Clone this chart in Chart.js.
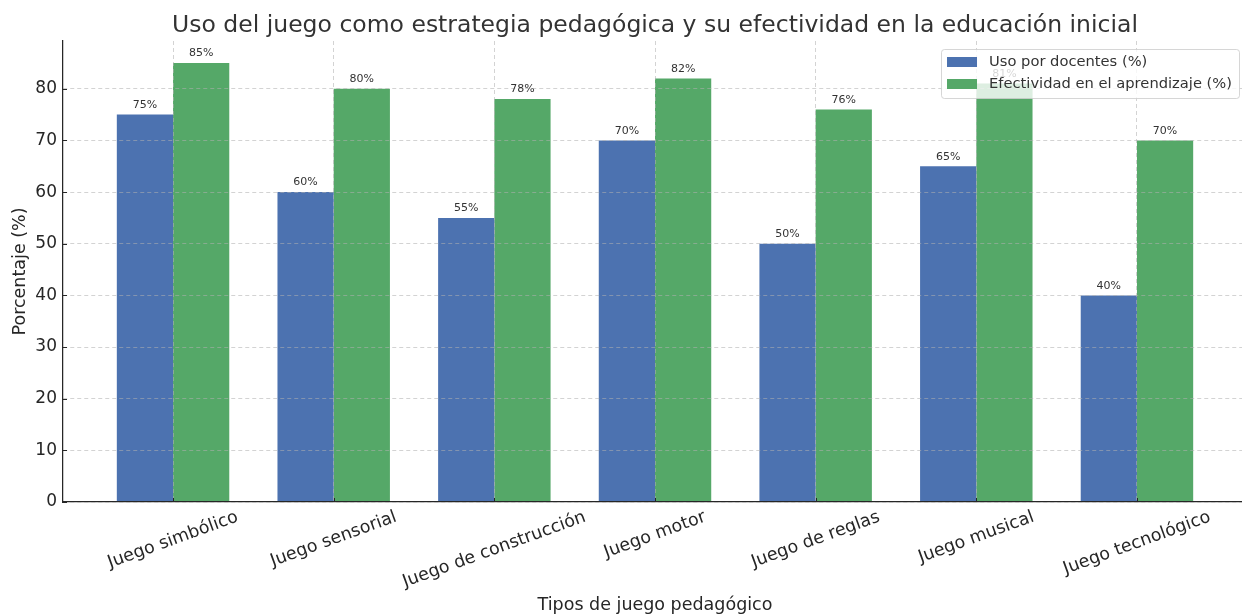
<!DOCTYPE html>
<html>
<head>
<meta charset="utf-8">
<script src="https://cdn.jsdelivr.net/npm/chart.js@4.4.0/dist/chart.umd.min.js"></script>
<style>
  html, body { margin: 0; padding: 0; background: #fff; overflow: hidden; }
  #chart { display: block; }
</style>
</head>
<body>
<canvas id="chart" width="1250" height="616"></canvas>
<script>
// datos
const categorias = ['Juego simbólico', 'Juego sensorial', 'Juego de construcción', 'Juego motor', 'Juego de reglas', 'Juego musical', 'Juego tecnológico'];
const usoDocentes = [75, 60, 55, 70, 50, 65, 40];
const efectividad = [85, 80, 78, 82, 76, 81, 70];
const yTicks = [0, 10, 20, 30, 40, 50, 60, 70, 80];
const etiquetasSerie = ['Uso por docentes (%)', 'Efectividad en el aprendizaje (%)'];

const AZUL = '#4c72b0';
const VERDE = '#55a868';
const FUENTE = '"DejaVu Sans", sans-serif';
const TEXTO = '#262626';

// Textos, marcas y leyenda dibujados a mano (estilo matplotlib)
const extrasPlugin = {
  id: 'extras',
  afterDraw(chart) {
    const { ctx, chartArea: area, scales: { x, y } } = chart;
    ctx.save();

    // marcas de los ejes hacia dentro
    ctx.strokeStyle = TEXTO;
    ctx.lineWidth = 1;
    categorias.forEach((_, i) => {
      const px = Math.round(x.getPixelForValue(i)) + 0.5;
      ctx.beginPath();
      ctx.moveTo(px, area.bottom);
      ctx.lineTo(px, area.bottom - 4);
      ctx.stroke();
    });
    yTicks.forEach(v => {
      const py = Math.round(y.getPixelForValue(v)) + 0.5;
      ctx.beginPath();
      ctx.moveTo(area.left, py);
      ctx.lineTo(area.left + 4, py);
      ctx.stroke();
    });

    // etiquetas de valor encima de las barras
    ctx.font = '11px ' + FUENTE;
    ctx.fillStyle = '#333';
    ctx.textAlign = 'center';
    ctx.textBaseline = 'bottom';
    chart.data.datasets.forEach((ds, di) => {
      const meta = chart.getDatasetMeta(di);
      meta.data.forEach((bar, i) => {
        ctx.fillText(ds.data[i].y + '%', bar.x, bar.y - 4);
      });
    });

    // etiquetas del eje x, giradas 20 grados y centradas
    const fx = 17.5;
    ctx.font = fx + 'px ' + FUENTE;
    ctx.fillStyle = TEXTO;
    ctx.textBaseline = 'middle';
    const ang = 20 * Math.PI / 180;
    categorias.forEach((c, i) => {
      const w = ctx.measureText(c).width;
      const h = w * Math.sin(ang) + fx * 1.17 * Math.cos(ang);
      const cx = x.getPixelForValue(i);
      const cy = area.bottom + 5 + h / 2;
      ctx.save();
      ctx.translate(cx, cy);
      ctx.rotate(-ang);
      ctx.fillText(c, 0, 0);
      ctx.restore();
    });

    // títulos de los ejes
    ctx.font = '17.5px ' + FUENTE;
    ctx.fillText('Tipos de juego pedagógico', (area.left + area.right) / 2, 605);
    ctx.save();
    ctx.translate(20, (area.top + area.bottom) / 2);
    ctx.rotate(-Math.PI / 2);
    ctx.fillText('Porcentaje (%)', 0, 0);
    ctx.restore();

    // título
    ctx.font = '23.5px ' + FUENTE;
    ctx.fillStyle = '#333';
    ctx.textBaseline = 'alphabetic';
    ctx.fillText('Uso del juego como estrategia pedagógica y su efectividad en la educación inicial', (area.left + area.right) / 2, 32);

    // leyenda arriba a la derecha
    ctx.font = '14.7px ' + FUENTE;
    ctx.textBaseline = 'middle';
    const tw = Math.max(...etiquetasSerie.map(t => ctx.measureText(t).width));
    const bw = tw + 55, bh = 49;
    const bx = area.right - 8 - bw, by = area.top + 8;
    ctx.beginPath();
    ctx.roundRect(bx + 0.5, by + 0.5, bw, bh, 3);
    ctx.fillStyle = 'rgba(255,255,255,0.8)';
    ctx.fill();
    ctx.strokeStyle = 'rgba(204,204,204,0.8)';
    ctx.lineWidth = 1;
    ctx.stroke();
    [AZUL, VERDE].forEach((col, i) => {
      const cy = by + 13 + i * 22;
      ctx.fillStyle = col;
      ctx.fillRect(bx + 6, cy - 5, 30, 10);
      ctx.fillStyle = '#333';
      ctx.textAlign = 'left';
      ctx.fillText(etiquetasSerie[i], bx + 48, cy);
    });

    ctx.restore();
  }
};

new Chart(document.getElementById('chart'), {
  type: 'bar',
  data: {
    datasets: [
      {
        label: etiquetasSerie[0],
        data: usoDocentes.map((v, i) => ({ x: i, y: v })),
        backgroundColor: AZUL,
        borderWidth: 0,
        categoryPercentage: 0.7,
        barPercentage: 1.0
      },
      {
        label: etiquetasSerie[1],
        data: efectividad.map((v, i) => ({ x: i, y: v })),
        backgroundColor: VERDE,
        borderWidth: 0,
        categoryPercentage: 0.7,
        barPercentage: 1.0
      }
    ]
  },
  options: {
    responsive: false,
    animation: false,
    layout: { padding: { top: 41, right: 3, left: 0, bottom: 0 } },
    plugins: {
      legend: { display: false },
      tooltip: { enabled: false },
      title: { display: false }
    },
    scales: {
      x: {
        type: 'linear',
        offset: false,
        min: -0.685,
        max: 6.685,
        afterBuildTicks: (s) => { s.ticks = categorias.map((_, i) => ({ value: i })); },
        afterFit: (s) => { s.height = 114; },
        ticks: { display: false },
        grid: { z: 1, offset: false, color: 'rgba(176,176,176,0.7)', lineWidth: 0.8, drawTicks: false },
        border: { display: true, z: 1, color: TEXTO, width: 1.25, dash: [4, 3] }
      },
      y: {
        min: 0,
        max: 89.25,
        afterBuildTicks: (s) => { s.ticks = yTicks.map(v => ({ value: v })); },
        afterFit: (s) => { s.width = 63; },
        ticks: {
          padding: 6,
          color: TEXTO,
          font: { family: FUENTE, size: 17 }
        },
        grid: { z: 1, color: 'rgba(176,176,176,0.7)', lineWidth: 0.8, drawTicks: false },
        border: { display: true, z: 1, color: TEXTO, width: 1.25, dash: [4, 3] }
      }
    }
  },
  plugins: [extrasPlugin]
});
</script>
</body>
</html>
